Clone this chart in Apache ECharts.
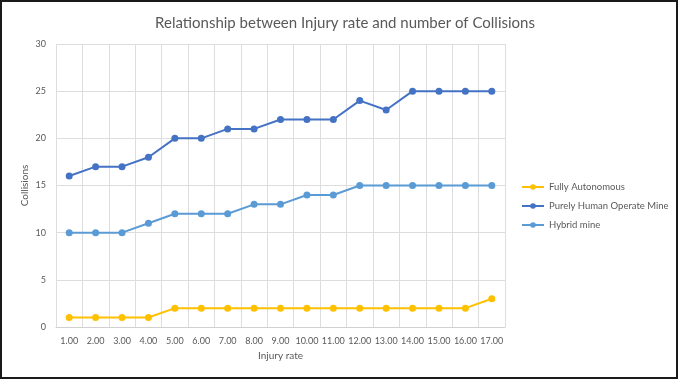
<!DOCTYPE html>
<html>
<head>
<meta charset="utf-8">
<script src="https://cdn.jsdelivr.net/npm/echarts@6/dist/echarts.min.js"></script>
<style>
  html, body { margin: 0; padding: 0; background: #fff; }
  #frame { position: absolute; left: 0; top: 0; width: 674px; height: 375px; border: 2px solid #1a1a1a; }
  #chart { width: 674px; height: 375px; }
</style>
</head>
<body>
<div id="frame"><div id="chart"></div></div>
<script>
// Injury rate categories (x axis)
const injuryRates = ['1.00','2.00','3.00','4.00','5.00','6.00','7.00','8.00','9.00','10.00','11.00','12.00','13.00','14.00','15.00','16.00','17.00'];

// Collisions per mine type
const fullyAutonomous = [1,1,1,1,2,2,2,2,2,2,2,2,2,2,2,2,3];
const purelyHuman     = [16,17,17,18,20,20,21,21,22,22,22,24,23,25,25,25,25];
const hybridMine      = [10,10,10,11,12,12,12,13,13,14,14,15,15,15,15,15,15];

const seriesNames = ['Fully Autonomous', 'Purely Human Operate Mine', 'Hybrid mine'];
const seriesColors = ['#FFC000', '#4472C4', '#5B9BD5'];
const seriesData = [fullyAutonomous, purelyHuman, hybridMine];

const textColor = '#595959';
const font = 'Lato, "Open Sans", sans-serif';

const chart = echarts.init(document.getElementById('chart'));
chart.setOption({
  animation: false,
  title: {
    text: 'Relationship between Injury rate and number of Collisions',
    left: 338, top: 9, textAlign: 'center',
    textStyle: { color: textColor, fontFamily: font, fontSize: 15, fontWeight: 'normal' }
  },
  legend: {
    orient: 'vertical',
    left: 514, top: 175,
    itemWidth: 22, itemHeight: 7, itemGap: 9,
    textStyle: { color: textColor, fontFamily: font, fontSize: 9.5 },
    data: seriesNames
  },
  grid: { left: 54, right: 171, top: 42, bottom: 50 },
  xAxis: {
    type: 'category',
    data: injuryRates,
    boundaryGap: true,
    name: 'Injury rate',
    nameLocation: 'middle',
    nameGap: 24,
    nameMoveOverlap: false,
    nameTextStyle: { color: textColor, fontFamily: font, fontSize: 10 },
    axisLine: { lineStyle: { color: '#d0d0d0' } },
    axisTick: { show: false },
    axisLabel: { color: textColor, fontFamily: font, fontSize: 9, margin: 10, interval: 0 },
    splitLine: { show: true, interval: 0, lineStyle: { color: '#dddddd' } }
  },
  yAxis: {
    type: 'value',
    min: 0, max: 30, interval: 5,
    name: 'Collisions',
    nameLocation: 'middle',
    nameGap: 26,
    nameMoveOverlap: false,
    nameTextStyle: { color: textColor, fontFamily: font, fontSize: 10 },
    axisLine: { show: false },
    axisTick: { show: false },
    axisLabel: { color: textColor, fontFamily: font, fontSize: 9, margin: 10 },
    splitLine: { lineStyle: { color: '#dddddd' } }
  },
  series: seriesData.map((d, i) => ({
    name: seriesNames[i],
    type: 'line',
    data: d,
    symbol: 'circle',
    symbolSize: 7,
    showSymbol: true,
    lineStyle: { width: 2, color: seriesColors[i] },
    itemStyle: { color: seriesColors[i] }
  }))
});
</script>
</body>
</html>
